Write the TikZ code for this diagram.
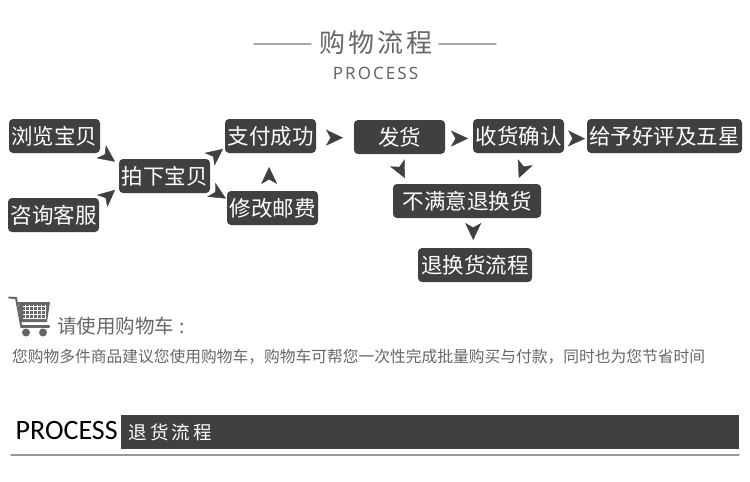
\documentclass[tikz,border=0pt]{standalone}
\usepackage{fontspec}
\usepackage{tikz}
\usetikzlibrary{arrows.meta}
\newfontfamily\cjk{Noto Sans CJK SC}
\newfontfamily\cjkwide[LetterSpace=12]{Noto Sans CJK SC}
\newfontfamily\cjkband[LetterSpace=18]{Noto Sans CJK SC}
\newfontfamily\latinwide[LetterSpace=12]{Noto Sans}
\newfontfamily\latinslim{Carlito}
\definecolor{boxgray}{HTML}{404040}
\definecolor{textgray}{HTML}{666666}
\definecolor{rulegray}{HTML}{A8A8A8}
\definecolor{basegray}{HTML}{999999}
\tikzset{
	stepbox/.style={
		fill=boxgray,
		rounded corners=4pt,
		inner sep=0pt,
		outer sep=0pt,
		minimum height=34pt,
		text=white,
		font=\cjk\fontsize{21.5pt}{24pt}\selectfont
	},
	hop/.style={
		-{Stealth[length=17pt,width=16pt,inset=4.5pt]},
		boxgray,
		line width=0.4pt
	}
}
\begin{document}
\begin{tikzpicture}[x=1pt, y=-1pt, line cap=round]
	\useasboundingbox (0,0) rectangle (750,482);
	\node[text=textgray, font=\cjkwide\fontsize{26pt}{30pt}\selectfont] (title) at (376,43) {购物流程};
	\coordinate (ruleleft) at (254,44);
	\coordinate (ruleright) at (496,44);
	\draw[rulegray, line width=1.4pt] (ruleleft) -- (311,44);
	\draw[rulegray, line width=1.4pt] (439,44) -- (ruleright);
	\node[text=textgray, font=\latinwide\fontsize{17pt}{20pt}\selectfont] (subtitle) at (375.5,73) {PROCESS};

	\node[stepbox, minimum width=91pt] (browse) at (54.5,136) {浏览宝贝};
	\node[stepbox, minimum width=91pt] (consult) at (53.5,215) {咨询客服};
	\node[stepbox, minimum width=91pt] (buy) at (164.5,176) {拍下宝贝};
	\node[stepbox, minimum width=91pt] (pay) at (270.5,136) {支付成功};
	\node[stepbox, minimum width=91pt] (fee) at (272.5,208) {修改邮费};
	\node[stepbox, minimum width=91pt] (ship) at (399.5,137) {发货};
	\node[stepbox, minimum width=91pt] (confirm) at (518.5,136) {收货确认};
	\node[stepbox, minimum width=155pt] (rate) at (664.5,136) {给予好评及五星};
	\node[stepbox, minimum width=148pt] (unhappy) at (467,201) {不满意退换货};
	\node[stepbox, minimum width=114pt] (returns) at (475,265) {退换货流程};

	\draw[hop, shorten <=7.5pt, shorten >=5pt] (browse.-18) -- (buy.166.4);
	\draw[hop, shorten <=9.5pt, shorten >=5.2pt] (consult.14.3) -- (buy.193.1);
	\draw[hop, shorten <=5pt, shorten >=2.5pt] (buy.north east) -- (pay.194.2);
	\draw[hop, shorten <=6.7pt, shorten >=1.2pt] (buy.-16.6) -- (fee.169.5);
	\draw[hop, shorten <=13pt, shorten >=14pt] (fee.101.6) -- (pay.265);
	\draw[hop, shorten <=16pt, shorten >=11pt] (pay.-2.5) -- (ship.181.3);
	\draw[hop, shorten <=11pt, shorten >=5pt] (ship.-2.5) -- (confirm.183.8);
	\draw[hop, shorten <=9pt, shorten >=2pt] (confirm.-3.8) -- (rate.182.2);
	\draw[hop, shorten <=14.2pt, shorten >=6.5pt] (ship.-111) -- (unhappy.164.6);
	\draw[hop, shorten <=14.8pt, shorten >=6.5pt] (confirm.-58.3) -- (unhappy.19.4);
	\draw[hop, shorten <=11pt, shorten >=8pt] (unhappy.-70.6) -- (returns.96.7);

	\draw[textgray, line width=2pt] (9,297.5) -- (16,298) -- (21,325);
	\fill[textgray] (18,302) -- (50,302) -- (47,322) -- (21,322) -- cycle;
	\foreach \row in {306,310,314,318} {
		\draw[white, line width=0.5pt] (23,\row) -- (46,\row);
	}
	\foreach \col in {25,29,33,37,41,45} {
		\draw[white, line width=0.5pt] (\col,305) -- (\col,319);
	}
	\draw[textgray, line width=2.4pt] (21,326.5) -- (49,326.5);
	\fill[textgray] (26,332.5) circle (4pt);
	\fill[textgray] (43,332.5) circle (4pt);

	\node[anchor=west, inner sep=0pt, text=textgray, font=\cjk\fontsize{19.5pt}{22pt}\selectfont] (cartnote) at (57,326) {请使用购物车\hspace{5pt}:};
	\node[anchor=west, inner sep=0pt, text=textgray, font=\cjk\fontsize{15.75pt}{18pt}\selectfont] (advice) at (12,357) {您购物多件商品建议您使用购物车，购物车可帮您一次性完成批量购买与付款，同时也为您节省时间};

	\node[anchor=west, inner sep=0pt, text=black, font=\latinslim\fontsize{28pt}{32pt}\selectfont] (brand) at (15.5,431) {PROCESS};
	\node[anchor=west, fill=boxgray, inner sep=0pt, minimum width=618pt, minimum height=34pt] (band) at (121,432) {};
	\node[anchor=west, inner sep=0pt, text=white, font=\cjkband\fontsize{18.5pt}{22pt}\selectfont] (bandtext) at (128,432) {退货流程};
	\draw[basegray, line width=1.5pt] (11,455) -- (739,455);
\end{tikzpicture}
\end{document}
